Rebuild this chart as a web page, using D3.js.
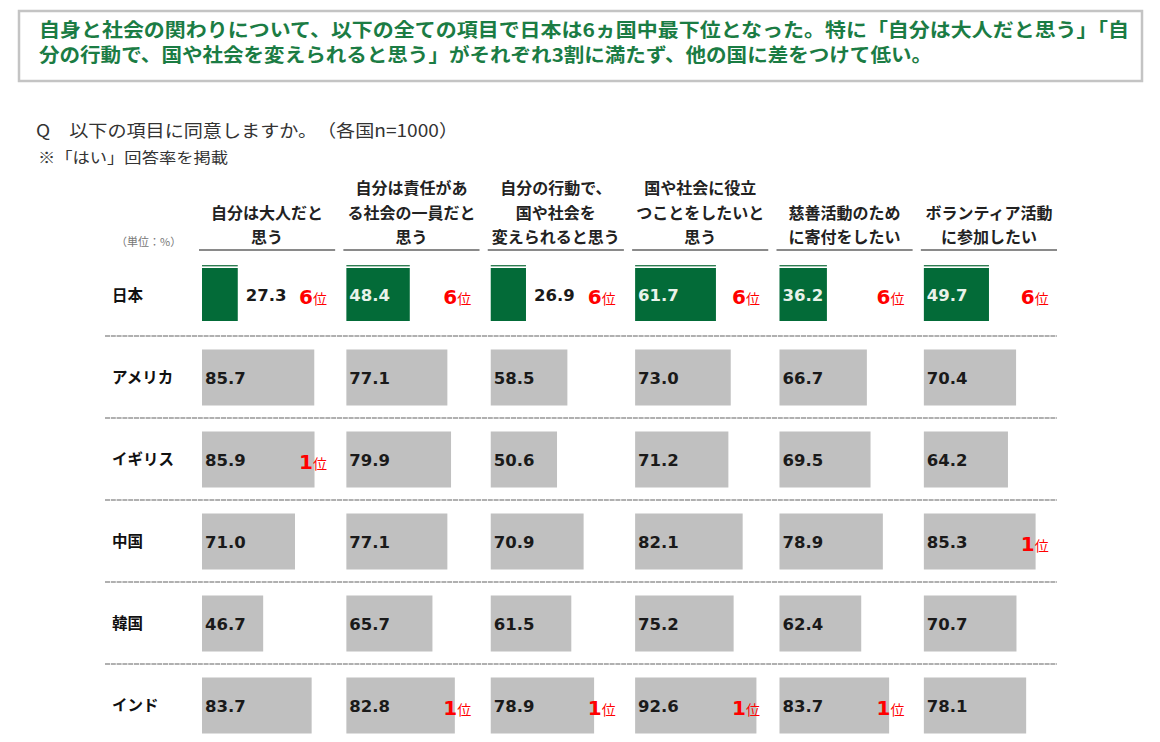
<!DOCTYPE html>
<html>
<head>
<meta charset="utf-8">
<script src="https://cdn.jsdelivr.net/npm/d3@7"></script>
<style>
  body { margin: 0; background: #fff; }
  svg { display: block; }
</style>
</head>
<body>
<div id="chart"></div>
<script>
// data
const titleLines = [
  "自身と社会の関わりについて、以下の全ての項目で日本は6ヵ国中最下位となった。特に「自分は大人だと思う」「自",
  "分の行動で、国や社会を変えられると思う」がそれぞれ3割に満たず、他の国に差をつけて低い。"
];
const question = "Q　以下の項目に同意しますか。　（各国n=1000）";
const note = "※「はい」回答率を掲載";
const unitLabel = "（単位：%）";

const items = ["大人", "責任", "変える", "役立つ", "寄付", "ボランティア"];
const itemLines = [
  ["自分は大人だと", "思う"],
  ["自分は責任があ", "る社会の一員だと", "思う"],
  ["自分の行動で、", "国や社会を", "変えられると思う"],
  ["国や社会に役立", "つことをしたいと", "思う"],
  ["慈善活動のため", "に寄付をしたい"],
  ["ボランティア活動", "に参加したい"]
];
const countries = ["日本", "アメリカ", "イギリス", "中国", "韓国", "インド"];

const japan   = [27.3, 48.4, 26.9, 61.7, 36.2, 49.7];
const usa     = [85.7, 77.1, 58.5, 73.0, 66.7, 70.4];
const uk      = [85.9, 79.9, 50.6, 71.2, 69.5, 64.2];
const china   = [71.0, 77.1, 70.9, 82.1, 78.9, 85.3];
const korea   = [46.7, 65.7, 61.5, 75.2, 62.4, 70.7];
const india   = [83.7, 82.8, 78.9, 92.6, 83.7, 78.1];
const seriesValues = [japan, usa, uk, china, korea, india];

// ranks shown on the chart (null = not shown)
const japanRank = [6, 6, 6, 6, 6, 6];
const ukRank    = [1, null, null, null, null, null];
const chinaRank = [null, null, null, null, null, 1];
const indiaRank = [null, 1, 1, 1, 1, null];
const noRank    = [null, null, null, null, null, null];
const rankRows = [japanRank, noRank, ukRank, chinaRank, noRank, indiaRank];

const W = 1160, H = 742;
const jp = "'Noto Sans CJK JP', 'Noto Sans', sans-serif";
const num = "'DejaVu Sans', Verdana, sans-serif";
const green = "#036b38", grey = "#c0c0c0", red = "#ff0000";

const svg = d3.select("#chart").append("svg")
    .attr("width", W)
    .attr("height", H);

// title box
svg.append("rect")
    .attr("x", 19).attr("y", 11)
    .attr("width", 1123).attr("height", 70)
    .attr("fill", "#fff")
    .attr("stroke", "#c4c4c4")
    .attr("stroke-width", 2.5);

svg.selectAll(".title")
  .data(titleLines)
  .join("text")
    .attr("class", "title")
    .attr("x", 39)
    .attr("y", (d, i) => 37 + i * 25)
    .attr("textLength", (d, i) => i === 0 ? 1090 : 893)
    .attr("lengthAdjust", "spacingAndGlyphs")
    .attr("font-family", jp)
    .attr("font-weight", 700)
    .attr("font-size", 19)
    .attr("fill", "#1b7c44")
    .text(d => d);

svg.append("text")
    .attr("x", 36).attr("y", 137)
    .attr("textLength", 422)
    .attr("lengthAdjust", "spacingAndGlyphs")
    .attr("font-family", jp)
    .attr("font-size", 17.5)
    .attr("fill", "#333")
    .text(question);

svg.append("text")
    .attr("x", 38).attr("y", 163)
    .attr("textLength", 190)
    .attr("lengthAdjust", "spacingAndGlyphs")
    .attr("font-family", jp)
    .attr("font-size", 14.5)
    .attr("fill", "#333")
    .text(note);

svg.append("text")
    .attr("x", 116).attr("y", 246)
    .attr("font-family", jp)
    .attr("font-size", 11)
    .attr("fill", "#777")
    .text(unitLabel);

// scales
const xCol = d3.scaleBand()
    .domain(items)
    .range([199, 1057])
    .paddingInner(0.057);

const yRow = d3.scaleBand()
    .domain(countries)
    .range([254, 746]);

const x = d3.scaleLinear()
    .domain([0, 100])
    .range([0, 131]);

const barOff = 3;

// column headers
const head = svg.append("g");
items.forEach((it, i) => {
  const lines = itemLines[i];
  const cx = xCol(it) + xCol.bandwidth() / 2;
  head.selectAll(null)
    .data(lines)
    .join("text")
      .attr("x", cx)
      .attr("y", (d, j) => 243 - (lines.length - 1 - j) * 24.5)
      .attr("text-anchor", "middle")
      .attr("font-family", jp)
      .attr("font-weight", 700)
      .attr("font-size", 16)
      .attr("fill", "#222")
      .text(d => d);
});

head.selectAll("line")
  .data(items)
  .join("line")
    .attr("x1", d => xCol(d))
    .attr("x2", d => xCol(d) + xCol.bandwidth())
    .attr("y1", 250).attr("y2", 250)
    .attr("stroke", "#8a8a8a")
    .attr("stroke-width", 2);

// row separators
svg.selectAll(".sep")
  .data(countries.slice(1))
  .join("line")
    .attr("class", "sep")
    .attr("x1", 105).attr("x2", 1057)
    .attr("y1", d => yRow(d)).attr("y2", d => yRow(d))
    .attr("stroke", "#b0b0b0")
    .attr("stroke-width", 2.2)
    .attr("stroke-dasharray", "5,0.8");

// country labels
svg.selectAll(".country")
  .data(countries)
  .join("text")
    .attr("class", "country")
    .attr("x", 112)
    .attr("y", d => yRow(d) + yRow.bandwidth() / 2 + 6)
    .attr("font-family", jp)
    .attr("font-weight", 700)
    .attr("font-size", 15.5)
    .attr("fill", "#111")
    .text(d => d);

// cells
const cells = [];
countries.forEach((c, r) => {
  items.forEach((it, k) => {
    cells.push({country: c, item: it, value: seriesValues[r][k], rank: rankRows[r][k], japan: r === 0});
  });
});

const bTop = d => yRow(d.country) + (d.japan ? 14 : 13.5);
const bH = d => d.japan ? 53 : 56;
const bX = d => xCol(d.item) + barOff;

const cell = svg.append("g").selectAll("g")
  .data(cells)
  .join("g");

// thin highlight line above Japan bars
cell.filter(d => d.japan)
  .append("rect")
    .attr("x", bX)
    .attr("y", d => bTop(d) - 3)
    .attr("width", d => x(d.value))
    .attr("height", 1.4)
    .attr("fill", "#2f7d52");

cell.append("rect")
    .attr("x", bX)
    .attr("y", bTop)
    .attr("width", d => x(d.value))
    .attr("height", bH)
    .attr("fill", d => d.japan ? green : grey);

const inside = d => x(d.value) > 45;

cell.append("text")
    .attr("x", d => inside(d) ? bX(d) + 3 : bX(d) + x(d.value) + 8)
    .attr("y", d => bTop(d) + bH(d) / 2 + 6)
    .attr("font-family", num)
    .attr("font-weight", 700)
    .attr("font-size", 16.5)
    .attr("fill", d => d.japan && inside(d) ? "#e8f2ea" : "#1a1a1a")
    .text(d => d.value.toFixed(1));

const rk = cell.filter(d => d.rank != null)
  .append("text")
    .attr("x", d => xCol(d.item) + 100)
    .attr("y", d => bTop(d) + bH(d) / 2 + 9)
    .attr("fill", red);
rk.append("tspan")
    .attr("font-family", num)
    .attr("font-weight", 700)
    .attr("font-size", 20)
    .text(d => d.rank);
rk.append("tspan")
    .attr("font-family", jp)
    .attr("font-size", 14)
    .text("位");
</script>
</body>
</html>
